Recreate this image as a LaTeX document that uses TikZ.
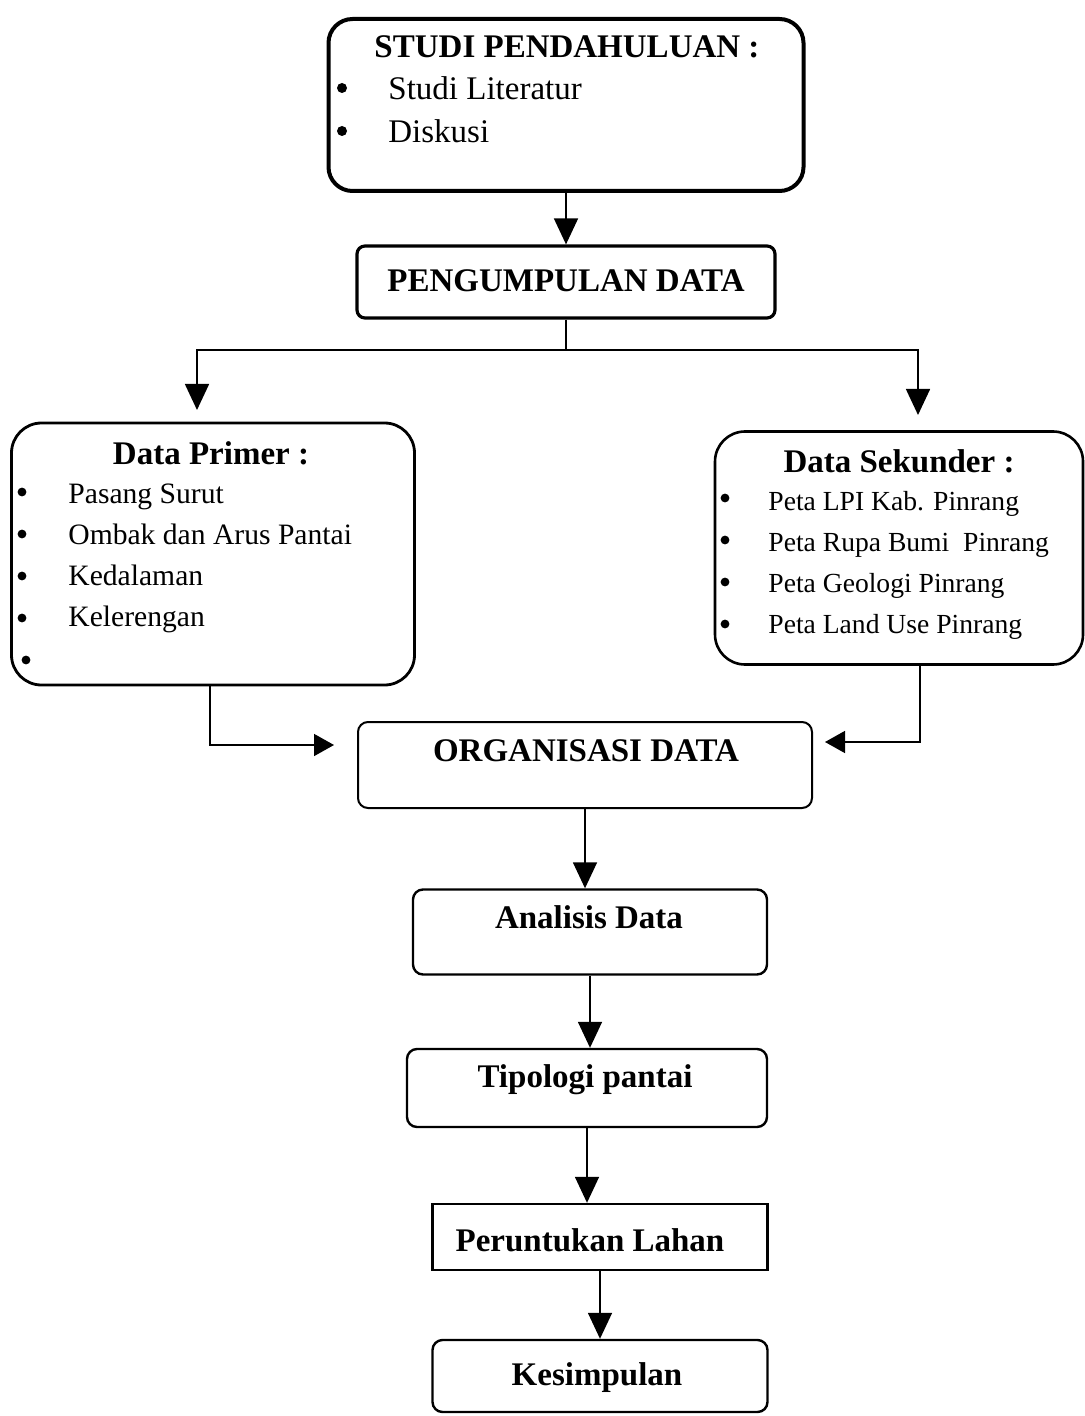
\documentclass[tikz,border=0pt]{standalone}
\usepackage{fontspec}
\setmainfont{Liberation Serif}
\usetikzlibrary{arrows.meta}

\begin{document}
\begin{tikzpicture}[
  x=0.5pt, y=-0.5pt,
  box/.style={draw=black, line width=1.2pt, rounded corners=5pt, inner sep=0pt},
  bigbox/.style={box, line width=1.4pt, rounded corners=15pt},
  head/.style={anchor=base, inner sep=0pt, font=\bfseries\fontsize{16.5}{19}\selectfont},
  item/.style={anchor=base west, inner sep=0pt},
  dot/.style={circle, fill=black, inner sep=0pt, minimum size=4.4pt},
  bigtext/.style={font=\fontsize{16.5}{19}\selectfont},
  midtext/.style={font=\fontsize{14.8}{17}\selectfont},
  smalltext/.style={font=\fontsize{13.8}{16}\selectfont},
  link/.style={line width=0.8pt},
  arrow/.style={link, -{Triangle[length=13pt, width=12pt]}},
  sidearrow/.style={link, -{Triangle[length=10pt, width=11pt]}}
]
\useasboundingbox (0,0) rectangle (1084,1416);

% boxes
\node[bigbox, line width=2pt, rounded corners=12pt, minimum width=237.5pt, minimum height=86pt] (studi) at (566,105) {};
\node[box, line width=1.6pt, rounded corners=4pt, minimum width=209pt, minimum height=36pt] (pengumpulan) at (566,282) {};
\node[bigbox, minimum width=201.5pt, minimum height=131pt] (primer) at (213,554) {};
\node[bigbox, line width=1.3pt, minimum width=184pt, minimum height=116.5pt] (sekunder) at (899,548) {};
\node[box, line width=1pt, minimum width=227pt, minimum height=43pt] (organisasi) at (585,765) {};
\node[box, minimum width=177pt, minimum height=42.5pt] (analisis) at (590,932) {};
\node[box, minimum width=180pt, minimum height=39pt] (tipologi) at (587,1088) {};
\node[box, sharp corners, minimum width=167.5pt, minimum height=33pt] (peruntukan) at (600,1237) {};
\node[box, minimum width=167.5pt, minimum height=36pt] (kesimpulan) at (600,1376) {};

% texts
\node[head] (studi-t) at (567,58) {STUDI PENDAHULUAN :};
\foreach \t [count=\i] in {Studi Literatur, Diskusi} {
  \node[dot, minimum size=5pt] (studi-b\i) at (342,45+43*\i) {};
  \node[item, bigtext] (studi-i\i) at (388,57+43*\i) {\t};
}
\node[head] (pengumpulan-t) at (566,292) {PENGUMPULAN DATA};

\node[head] (primer-t) at (211,465) {Data Primer :};
\foreach \t [count=\i] in {Pasang Surut, Ombak dan Arus Pantai, Kedalaman, Kelerengan} {
  \node[dot] (primer-b\i) at (22,450+42*\i) {};
  \node[item, midtext] (primer-i\i) at (68,462+41*\i) {\t};
}
\node[dot] (primer-b5) at (26,660) {};

\node[head] (sekunder-t) at (899,473) {Data Sekunder :};
\foreach \t [count=\i] in {Peta LPI Kab. Pinrang, Peta Rupa Bumi\ \ Pinrang, Peta Geologi Pinrang, Peta Land Use Pinrang} {
  \node[dot] (sekunder-b\i) at (725,456+42*\i) {};
  \node[item, smalltext] (sekunder-i\i) at (768,469+41*\i) {\t};
}

\node[head] (organisasi-t) at (586,761) {ORGANISASI DATA};
\node[head] (analisis-t) at (589,928) {Analisis Data};
\node[head] (tipologi-t) at (585,1087) {Tipologi pantai};
\node[head] (peruntukan-t) at (590,1251) {Peruntukan Lahan};
\node[head] (kesimpulan-t) at (597,1385) {Kesimpulan};

% connectors
\coordinate (split) at (566,350);
\coordinate (toprimer) at (197,425);
\coordinate (tosekunder) at (918,432);
\coordinate (primerout) at (210,685);
\coordinate (sekunderout) at (920,665);
\coordinate (orgleft) at (358,745);
\coordinate (orgright) at (812,742);

\draw[arrow] (studi.south) -- (pengumpulan.north);
\draw[link] (pengumpulan.south) -- (split);
\draw[arrow, shorten >=7.5pt] (split) -| (toprimer);
\draw[arrow, shorten >=8.5pt] (split) -| (tosekunder);
\draw[sidearrow, shorten >=12pt] (primerout) |- (orgleft);
\draw[sidearrow, shorten >=6.5pt] (sekunderout) |- (orgright);
\draw[arrow] (organisasi.south) -- (organisasi.south |- analisis.north);
\draw[arrow] (analisis.south) -- (analisis.south |- tipologi.north);
\draw[arrow] (tipologi.south) -- (tipologi.south |- peruntukan.north);
\draw[arrow] (peruntukan.south) -- (peruntukan.south |- kesimpulan.north);

\end{tikzpicture}
\end{document}
